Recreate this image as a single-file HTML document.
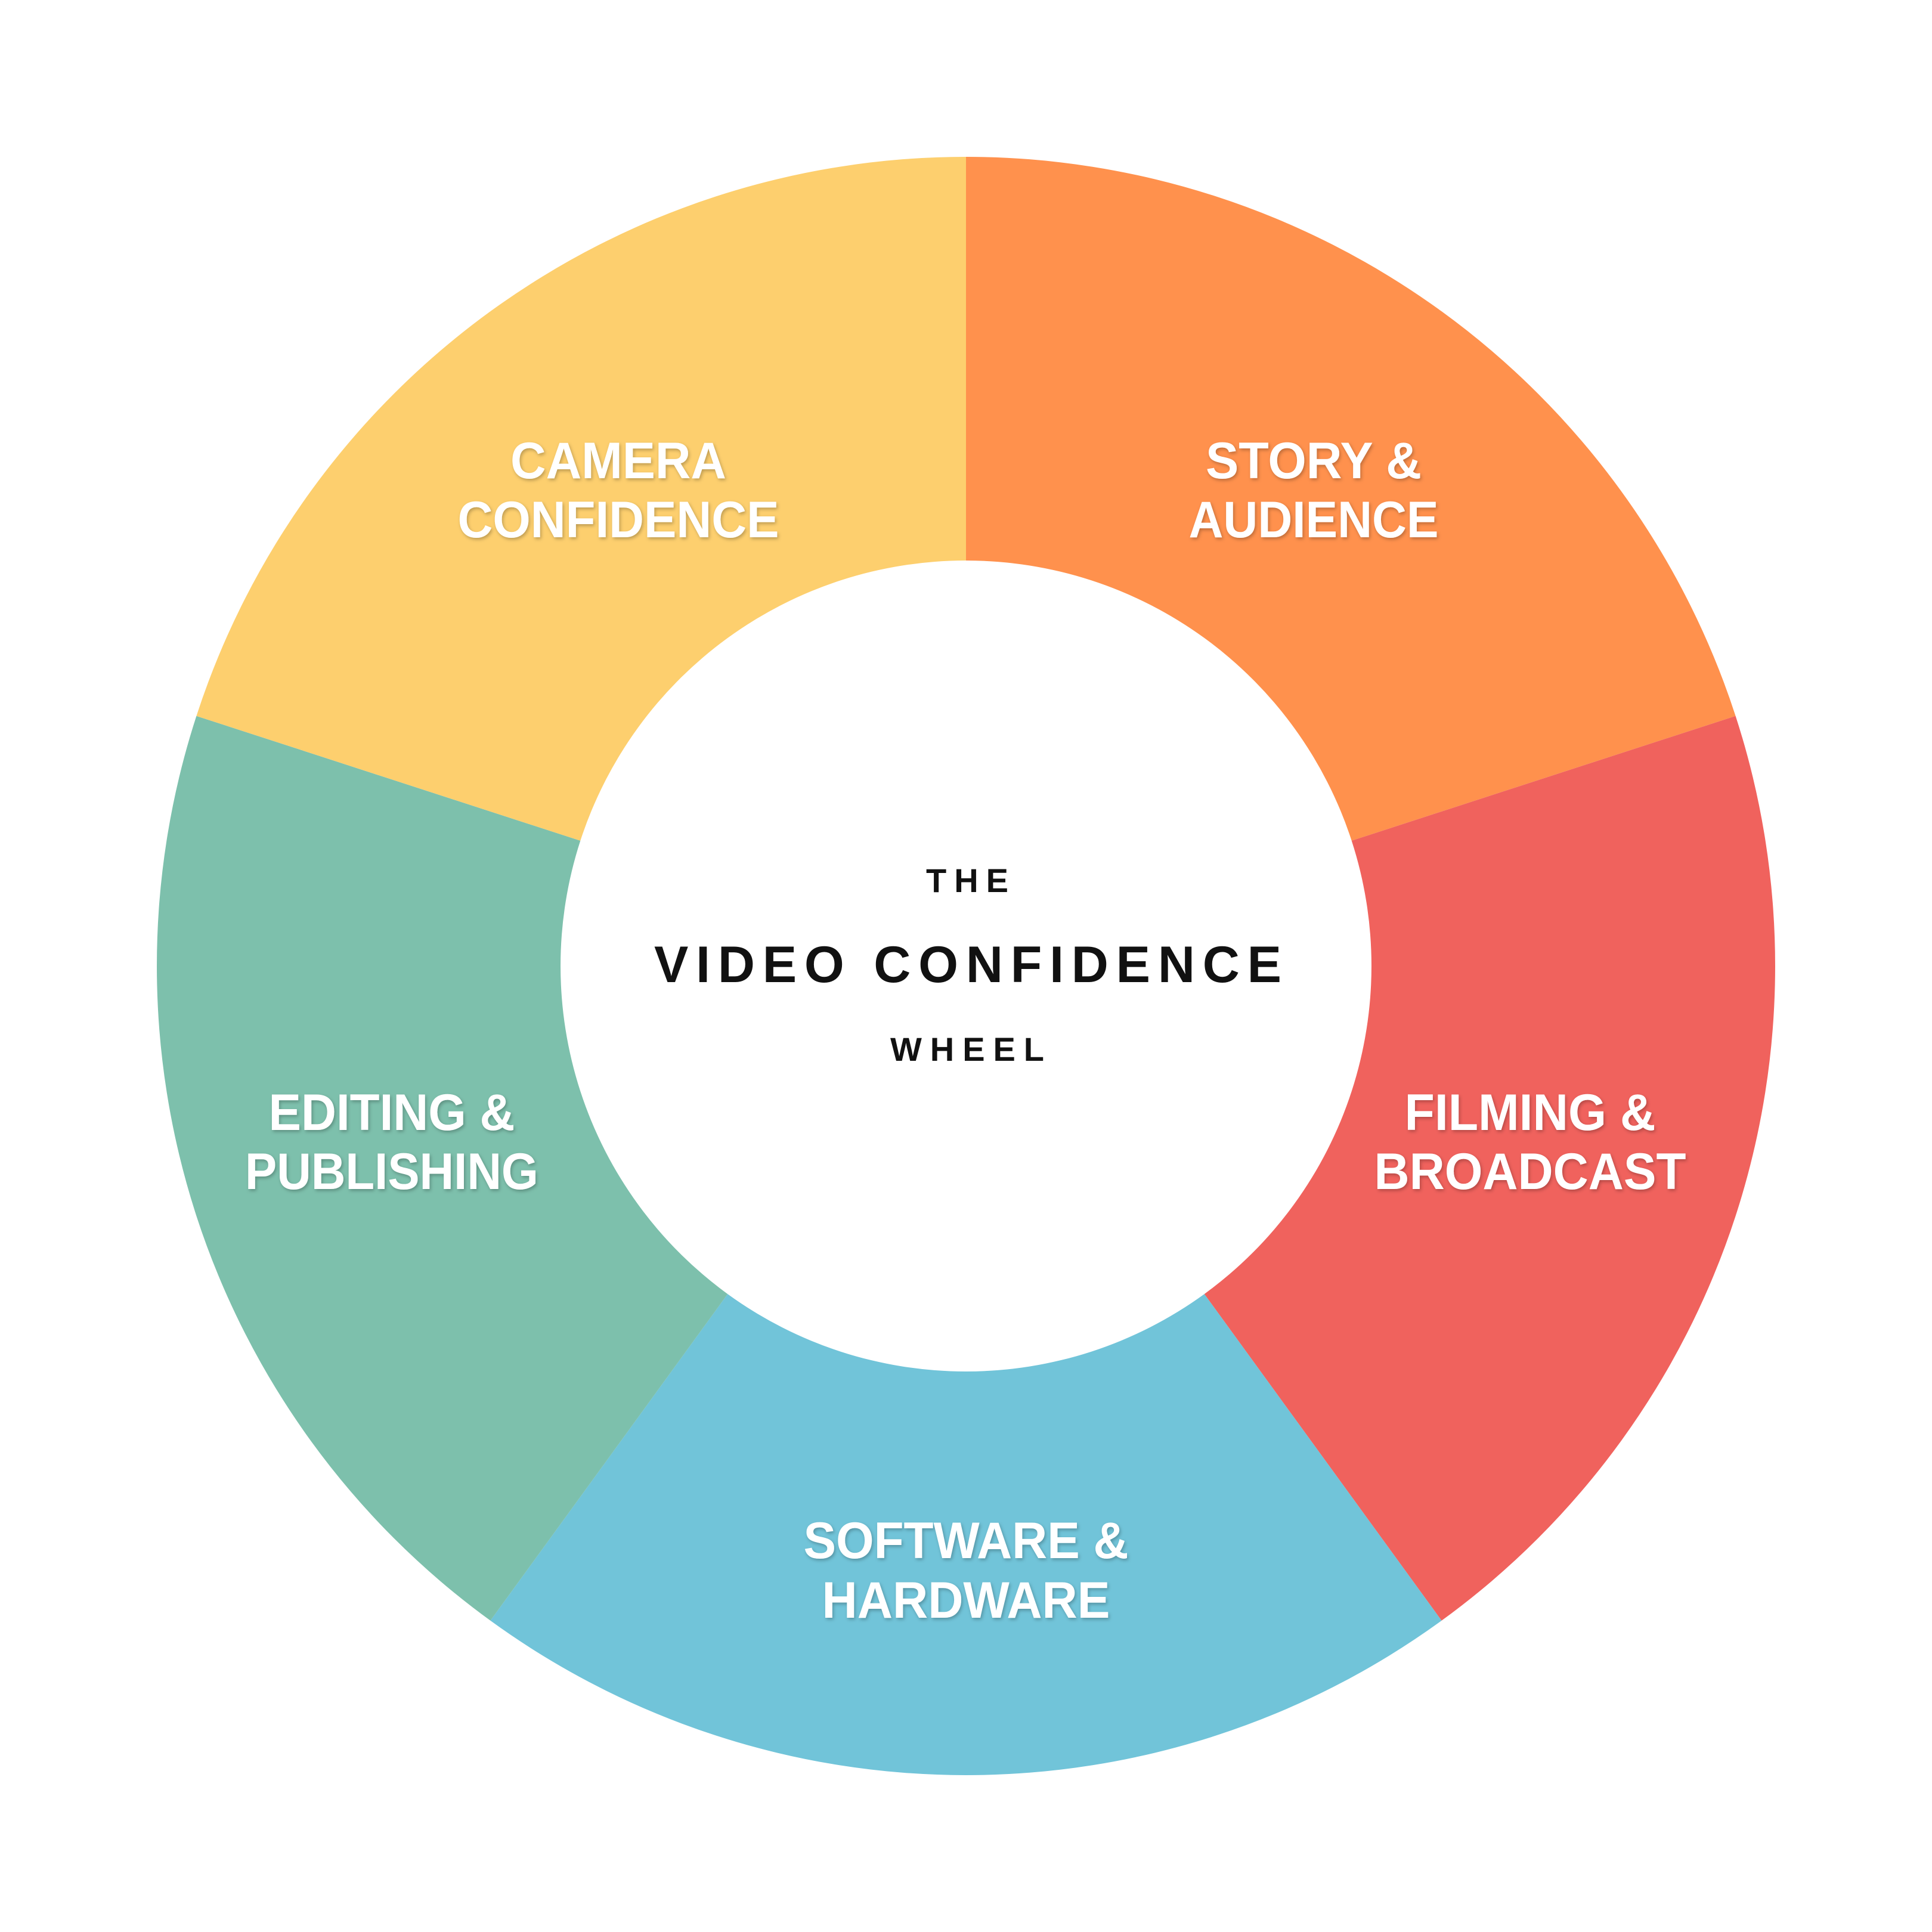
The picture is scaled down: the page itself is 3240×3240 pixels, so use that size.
<!DOCTYPE html>
<html><head><meta charset="utf-8"><style>
html,body{margin:0;padding:0;background:#fff}
svg{display:block}
.l{font-family:"Liberation Sans",sans-serif;font-weight:bold;font-size:86px;fill:#fff;text-anchor:middle}
.c{font-family:"Liberation Sans",sans-serif;font-weight:bold;fill:#111;text-anchor:middle}
</style></head><body>
<svg width="3240" height="3240" viewBox="0 0 3240 3240" xmlns="http://www.w3.org/2000/svg">
<defs><filter id="s" x="-10%" y="-20%" width="120%" height="140%"><feDropShadow dx="2" dy="3" stdDeviation="3" flood-color="#000" flood-opacity="0.25"/></filter></defs>
<path d="M1620 263 A1357 1357 0 0 1 2910.6 1200.7 L2266.7 1409.9 A680 680 0 0 0 1620 940 Z" fill="#FF914D"/>
<path d="M2910.6 1200.7 A1357 1357 0 0 1 2417.6 2717.8 L2019.7 2170.1 A680 680 0 0 0 2266.7 1409.9 Z" fill="#F0625D"/>
<path d="M2417.6 2717.8 A1357 1357 0 0 1 822.4 2717.8 L1220.3 2170.1 A680 680 0 0 0 2019.7 2170.1 Z" fill="#71C4D9"/>
<path d="M822.4 2717.8 A1357 1357 0 0 1 329.4 1200.7 L973.3 1409.9 A680 680 0 0 0 1220.3 2170.1 Z" fill="#7DC0AC"/>
<path d="M329.4 1200.7 A1357 1357 0 0 1 1620 263 L1620 940 A680 680 0 0 0 973.3 1409.9 Z" fill="#FDCF6E"/>
<g class="l" filter="url(#s)">
<text x="1037" y="802" textLength="362" lengthAdjust="spacingAndGlyphs">CAMERA</text>
<text x="1037" y="901" textLength="539" lengthAdjust="spacingAndGlyphs">CONFIDENCE</text>
<text x="2203" y="802" textLength="362" lengthAdjust="spacingAndGlyphs">STORY &amp;</text>
<text x="2203" y="901" textLength="419" lengthAdjust="spacingAndGlyphs">AUDIENCE</text>
<text x="2566" y="1895" textLength="421" lengthAdjust="spacingAndGlyphs">FILMING &amp;</text>
<text x="2566" y="1994" textLength="523" lengthAdjust="spacingAndGlyphs">BROADCAST</text>
<text x="657" y="1895" textLength="413" lengthAdjust="spacingAndGlyphs">EDITING &amp;</text>
<text x="657" y="1994" textLength="492" lengthAdjust="spacingAndGlyphs">PUBLISHING</text>
<text x="1620" y="2613" textLength="545" lengthAdjust="spacingAndGlyphs">SOFTWARE &amp;</text>
<text x="1620" y="2713" textLength="483" lengthAdjust="spacingAndGlyphs">HARDWARE</text>
</g>
<text class="c" x="1622" y="1496" font-size="56" textLength="138" lengthAdjust="spacing">THE</text>
<text class="c" x="1623" y="1647" font-size="86" textLength="1052" lengthAdjust="spacing">VIDEO CONFIDENCE</text>
<text class="c" x="1622" y="1779" font-size="56" textLength="258" lengthAdjust="spacing">WHEEL</text>
</svg>
</body></html>
